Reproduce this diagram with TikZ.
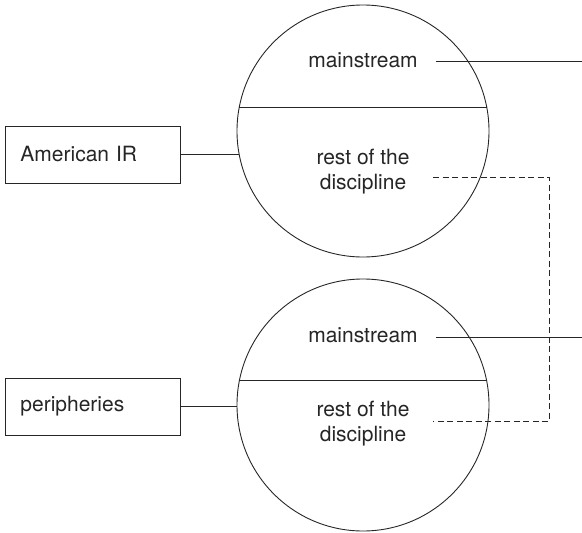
\documentclass[tikz,border=0pt]{standalone}
\usepackage{fontspec}
\setmainfont{TeX Gyre Heros}
\begin{document}
\begin{tikzpicture}[x=1pt,y=-1pt,
  ln/.style={line width=0.9pt,draw=black!85},
  dashln/.style={ln,dash pattern=on 6pt off 3.5pt},
  circ/.style={ln,circle,minimum size=252pt,inner sep=0pt},
  lbl/.style={font=\fontsize{21}{25}\selectfont,text=black!85,align=center,inner sep=0pt},
  boxnode/.style={ln,rectangle,minimum height=57pt,text width=145pt,inner xsep=15pt,inner ysep=0pt,align=left,anchor=west,font=\fontsize{21}{25}\selectfont,text=black!85}]
\useasboundingbox (0,0) rectangle (582,533);
% top circle
\node[circ] (c1) at (363,131) {};
\coordinate (c1l) at (239.3,107);
\coordinate (c1r) at (486.7,107);
\draw[ln] (c1l) -- (c1r);
\node[lbl] (m1) at (363,60) {mainstream};
\node[lbl] (r1) at (363,172) {rest of the\\discipline};
% bottom circle
\node[circ] (c2) at (363,405) {};
\coordinate (c2l) at (239.5,380);
\coordinate (c2r) at (486.5,380);
\draw[ln] (c2l) -- (c2r);
\node[lbl] (m2) at (363,335) {mainstream};
\node[lbl] (r2) at (363,424) {rest of the\\discipline};
% boxes
\node[boxnode] (b1) at (5,154.5) {American IR};
\node[boxnode] (b2) at (5,406.5) {peripheries};
\coordinate (k1) at (239.1,154.5);
\coordinate (k2) at (237,406.5);
\draw[ln] (b1.east) -- (k1);
\draw[ln] (b2.east) -- (k2);
% right lines
\coordinate (e1) at (582,61);
\coordinate (s1) at (436,61);
\coordinate (e2) at (582,337);
\coordinate (s2) at (436,337);
\draw[ln] (s1) -- (e1);
\draw[ln] (s2) -- (e2);
% dashed connector
\coordinate (d1) at (433,177);
\coordinate (d2) at (433,421);
\draw[dashln] (d1) -- (549,177) -- (549,421) -- (d2);
\end{tikzpicture}
\end{document}
